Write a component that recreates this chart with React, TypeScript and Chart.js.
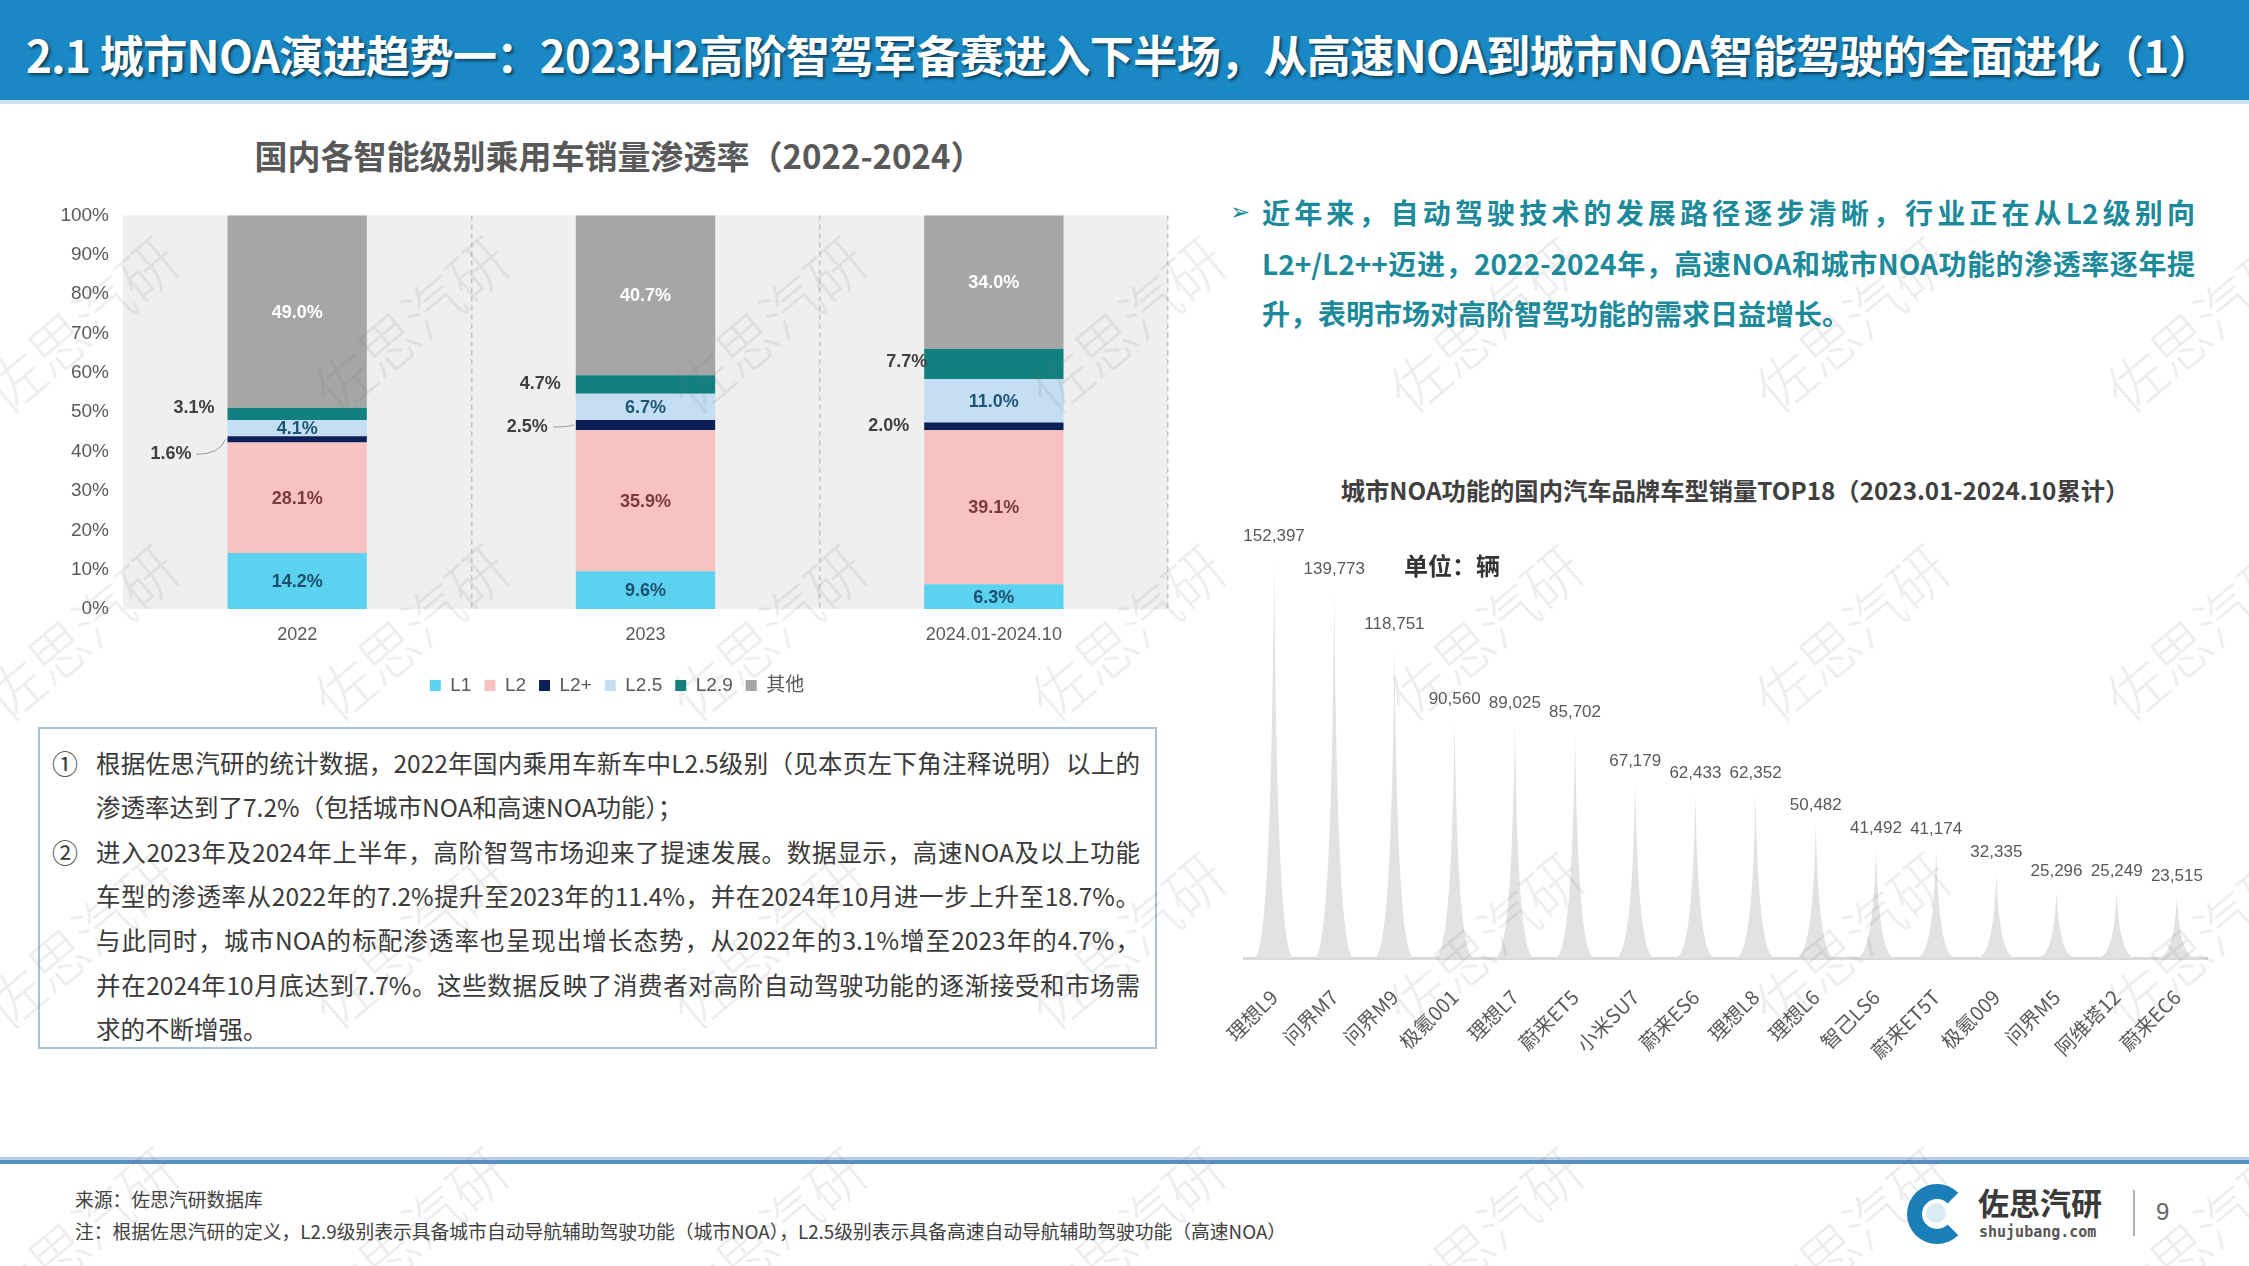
import React, { useEffect, useRef } from 'react';
import { Chart, registerables } from 'chart.js';

Chart.register(...registerables);

// ---------------- data ----------------
const years = ['2022', '2023', '2024.01-2024.10'];
const levelNames = ['L1', 'L2', 'L2+', 'L2.5', 'L2.9', '其他'];
const l1Share = [14.2, 9.6, 6.3];
const l2Share = [28.1, 35.9, 39.1];
const l2PlusShare = [1.6, 2.5, 2.0];
const l25Share = [4.1, 6.7, 11.0];
const l29Share = [3.1, 4.7, 7.7];
const otherShare = [49.0, 40.7, 34.0];
const pctTickStep = 10;

const models = ['理想L9', '问界M7', '问界M9', '极氪001', '理想L7', '蔚来ET5', '小米SU7', '蔚来ES6', '理想L8', '理想L6', '智己LS6', '蔚来ET5T', '极氪009', '问界M5', '阿维塔12', '蔚来EC6'];
const modelSales = [152397, 139773, 118751, 90560, 89025, 85702, 67179, 62433, 62352, 50482, 41492, 41174, 32335, 25296, 25249, 23515];

// ---------------- styles ----------------
const CJK = '"Noto Sans CJK SC", "Noto Sans", sans-serif';
const LAT = '"Liberation Sans", Arial, "Noto Sans CJK SC", sans-serif';
const levelColors = ['#5bd2ef', '#f8c2c2', '#0c1f56', '#c4dff4', '#12807f', '#a6a6a6'];
const insideLabelColors: (string | null)[] = ['#1f4f6f', '#7a3a3a', null, '#1e5676', null, '#ffffff'];
// nudges for labels drawn left of the bars: [dx, dy] per year
const outsideNudge: Record<string, number[][]> = {
  'L2+': [[-36, 15], [-28, 2], [-15, 0]],
  'L2.9': [[-13, -6], [-15, 0], [3, -2]],
};
const legendShift = 33;

Chart.defaults.font.family = LAT;

const plotBgPlugin = {
  id: 'plotBg',
  afterLayout(chart: any) {
    if (chart.legend) {
      chart.legend.left += legendShift;
      chart.legend.right += legendShift;
    }
  },
  beforeDraw(chart: any) {
    const { ctx, chartArea } = chart;
    ctx.save();
    ctx.fillStyle = '#efefef';
    ctx.fillRect(chartArea.left, chartArea.top, chartArea.right - chartArea.left, chartArea.bottom - chartArea.top);
    ctx.restore();
  },
};

const stackLabelPlugin = {
  id: 'stackLabels',
  afterDatasetsDraw(chart: any) {
    const ctx = chart.ctx;
    ctx.save();
    ctx.font = `bold 18px ${LAT}`;
    ctx.textBaseline = 'middle';
    chart.data.datasets.forEach((ds: any, di: number) => {
      const meta = chart.getDatasetMeta(di);
      meta.data.forEach((bar: any, i: number) => {
        const p = bar.getProps(['x', 'y', 'base', 'width'], true);
        const mid = (Math.max(p.y, chart.chartArea.top) + p.base) / 2;
        const text = Number(ds.data[i]).toFixed(1) + '%';
        const inside = insideLabelColors[di];
        if (inside) {
          ctx.fillStyle = inside;
          ctx.textAlign = 'center';
          ctx.fillText(text, p.x, mid + 1);
        } else {
          const nudge = outsideNudge[ds.label][i];
          const left = p.x - p.width / 2;
          const tx = left + nudge[0];
          const ty = mid + nudge[1];
          ctx.fillStyle = '#404040';
          ctx.textAlign = 'right';
          ctx.fillText(text, tx, ty);
          if (ds.label === 'L2+' && nudge[0] < -20) {
            ctx.strokeStyle = '#9a9a9a';
            ctx.lineWidth = 1;
            ctx.beginPath();
            ctx.moveTo(tx + 5, ty);
            ctx.quadraticCurveTo(left - 8, ty, left - 2, mid);
            ctx.stroke();
          }
        }
      });
    });
    ctx.restore();
  },
};

const spikePlugin = {
  id: 'spikes',
  beforeDatasetDraw() {
    return false;
  },
  afterDatasetsDraw(chart: any) {
    const ctx = chart.ctx;
    const ds = chart.data.datasets[0];
    const meta = chart.getDatasetMeta(0);
    ctx.save();
    meta.data.forEach((el: any, i: number) => {
      const { x, y, base, width } = el.getProps(['x', 'y', 'base', 'width'], true);
      const hw = width / 2;
      const h = base - y;
      ctx.beginPath();
      ctx.moveTo(x - hw, base);
      ctx.bezierCurveTo(x - hw * 0.32, base, x - hw * 0.08, base - h * 0.45, x, y);
      ctx.bezierCurveTo(x + hw * 0.08, base - h * 0.45, x + hw * 0.32, base, x + hw, base);
      ctx.closePath();
      ctx.fillStyle = ds.backgroundColor;
      ctx.fill();
      ctx.fillStyle = '#595959';
      ctx.font = `17px "Liberation Sans Narrow", ${LAT}`;
      ctx.textAlign = 'center';
      ctx.textBaseline = 'middle';
      ctx.fillText(Number(ds.data[i]).toLocaleString('en-US'), x, y - 20);
    });
    ctx.restore();
  },
};

function ShareChart() {
  const ref = useRef<HTMLCanvasElement>(null);
  useEffect(() => {
    const series = [l1Share, l2Share, l2PlusShare, l25Share, l29Share, otherShare];
    const chart = new Chart(ref.current as HTMLCanvasElement, {
      type: 'bar',
      data: {
        labels: years,
        datasets: levelNames.map((name, k) => ({
          label: name,
          data: series[k],
          backgroundColor: levelColors[k],
          borderWidth: 0,
          barPercentage: 0.4,
          categoryPercentage: 1,
        })),
      },
      options: {
        responsive: false,
        animation: false,
        layout: { padding: { top: 19, right: 32, left: 0, bottom: 15 } },
        scales: {
          x: {
            stacked: true,
            grid: {
              display: true,
              drawTicks: false,
              offset: true,
              lineWidth: 1.5,
              color: (c: any) => (c.index === 0 ? 'rgba(0,0,0,0)' : '#c4c4c4'),
            },
            border: { display: false, dash: [5, 4] },
            ticks: { color: '#595959', font: { size: 18 }, padding: 15 },
            afterFit: (s: any) => { s.height = 54; },
          },
          y: {
            stacked: true,
            min: 0,
            max: 100,
            grid: { display: false, drawTicks: false },
            border: { display: false },
            ticks: {
              stepSize: pctTickStep,
              color: '#595959',
              font: { size: 19 },
              padding: 14,
              callback: (v: any) => v + '%',
            },
            afterFit: (s: any) => { s.width = 123; },
          },
        },
        plugins: {
          legend: {
            position: 'bottom',
            labels: {
              boxWidth: 11,
              boxHeight: 11,
              color: '#595959',
              font: { size: 19 },
              padding: 13,
            },
          },
          tooltip: { enabled: false },
        },
      } as any,
      plugins: [plotBgPlugin, stackLabelPlugin],
    });
    return () => chart.destroy();
  }, []);
  return <canvas ref={ref} width={1200} height={530} style={{ position: 'absolute', left: 0, top: 190 }} />;
}

function ModelChart() {
  const ref = useRef<HTMLCanvasElement>(null);
  useEffect(() => {
    const chart = new Chart(ref.current as HTMLCanvasElement, {
      type: 'bar',
      data: {
        labels: models,
        datasets: [{ data: modelSales, backgroundColor: '#e2e2e2', barPercentage: 0.66, categoryPercentage: 1 }],
      },
      options: {
        responsive: false,
        animation: false,
        layout: { padding: { left: 44, right: 42, top: 36, bottom: 0 } },
        scales: {
          x: {
            grid: { display: false, drawTicks: false },
            border: { display: true, color: '#dadada', width: 3 },
            ticks: {
              color: '#595959',
              font: { size: 20, family: CJK },
              minRotation: 45,
              maxRotation: 45,
              autoSkip: false,
              padding: 27,
            },
            afterFit: (s: any) => { s.height = 164; },
          },
          y: { display: false, min: 0, max: 160000 },
        },
        plugins: { legend: { display: false }, tooltip: { enabled: false } },
      } as any,
      plugins: [spikePlugin],
    });
    return () => chart.destroy();
  }, []);
  return <canvas ref={ref} width={1049} height={622} style={{ position: 'absolute', left: 1200, top: 500 }} />;
}

const boxLines = [
  '根据佐思汽研的统计数据，2022年国内乘用车新车中L2.5级别（见本页左下角注释说明）以上的',
  '渗透率达到了7.2%（包括城市NOA和高速NOA功能）；',
  '进入2023年及2024年上半年，高阶智驾市场迎来了提速发展。数据显示，高速NOA及以上功能',
  '车型的渗透率从2022年的7.2%提升至2023年的11.4%，并在2024年10月进一步上升至18.7%。',
  '与此同时，城市NOA的标配渗透率也呈现出增长态势，从2022年的3.1%增至2023年的4.7%，',
  '并在2024年10月底达到7.7%。这些数据反映了消费者对高阶自动驾驶功能的逐渐接受和市场需',
  '求的不断增强。',
];
const boxJustify = [true, false, true, true, true, true, false];

const rightLines = [
  '近年来，自动驾驶技术的发展路径逐步清晰，行业正在从L2级别向',
  'L2+/L2++迈进，2022-2024年，高速NOA和城市NOA功能的渗透率逐年提',
  '升，表明市场对高阶智驾功能的需求日益增长。',
];

const wmXs = [79, 409, 767, 1126, 1484, 1850, 2201];
const wmYs = [323, 631, 939, 1233];

export default function App() {
  return (
    <div style={{ position: 'absolute', left: 0, top: 0, width: 2249, height: 1266, background: '#ffffff', overflow: 'hidden', fontFamily: CJK }}>
      {/* title bar */}
      <div style={{ position: 'absolute', left: 0, top: 0, width: 2249, height: 100, background: '#1a88c4' }} />
      <div style={{ position: 'absolute', left: 0, top: 100, width: 2249, height: 4, background: '#cfe4f0' }} />
      <div style={{ position: 'absolute', left: 26, top: 23, height: 62, lineHeight: '62px', fontSize: 44, fontWeight: 700, color: '#ffffff', whiteSpace: 'nowrap', textShadow: '2px 2px 3px rgba(0,0,0,0.55)', letterSpacing: -0.6 }}>
        2.1 城市NOA演进趋势一：2023H2高阶智驾军备赛进入下半场，从高速NOA到城市NOA智能驾驶的全面进化（1）
      </div>

      {/* left chart title */}
      <div style={{ position: 'absolute', left: 219, top: 134, width: 800, textAlign: 'center', fontSize: 33, fontWeight: 700, color: '#595959', lineHeight: '42px', whiteSpace: 'nowrap' }}>
        国内各智能级别乘用车销量渗透率（2022-2024）
      </div>
      <ShareChart />

      {/* text box */}
      <div style={{ position: 'absolute', left: 38, top: 727, width: 1119, height: 322, border: '2px solid #a8c3d3', boxSizing: 'border-box' }} />
      {boxLines.map((t, i) => (
        <div key={i} style={{ position: 'absolute', left: 96, top: 741 + i * 44.3, width: 1044, height: 44, lineHeight: '44px', fontSize: 24.5, color: '#3a3a3a', whiteSpace: 'nowrap', textAlign: boxJustify[i] ? 'justify' : 'left', textAlignLast: boxJustify[i] ? 'justify' : 'left' } as any}>
          {t}
        </div>
      ))}
      <div style={{ position: 'absolute', left: 52, top: 741, fontSize: 26, lineHeight: '44px', color: '#3a3a3a' }}>①</div>
      <div style={{ position: 'absolute', left: 52, top: 741 + 2 * 44.3, fontSize: 26, lineHeight: '44px', color: '#3a3a3a' }}>②</div>

      {/* right text */}
      <div style={{ position: 'absolute', left: 1230, top: 192, fontSize: 24, lineHeight: '40px', color: '#1c8a9a', fontFamily: '"DejaVu Sans", sans-serif' }}>➢</div>
      {rightLines.map((t, i) => (
        <div key={i} style={{ position: 'absolute', left: 1262, top: 187 + i * 50.5, width: 933, height: 50, lineHeight: '50px', fontSize: 28, fontWeight: 700, color: '#1c8a9a', whiteSpace: 'nowrap', textAlign: i < 2 ? 'justify' : 'left', textAlignLast: i < 2 ? 'justify' : 'left' } as any}>
          {t}
        </div>
      ))}

      {/* right chart title */}
      <div style={{ position: 'absolute', left: 1285, top: 473, width: 900, textAlign: 'center', fontSize: 24.3, fontWeight: 700, color: '#404040', lineHeight: '34px', whiteSpace: 'nowrap' }}>
        城市NOA功能的国内汽车品牌车型销量TOP18（2023.01-2024.10累计）
      </div>
      <ModelChart />
      <div style={{ position: 'absolute', left: 1404, top: 548, fontSize: 24, fontWeight: 700, color: '#333333', lineHeight: '34px', whiteSpace: 'nowrap' }}>单位：辆</div>

      {/* footer */}
      <div style={{ position: 'absolute', left: 0, top: 1157, width: 2249, height: 3, background: '#b7cfe6' }} />
      <div style={{ position: 'absolute', left: 0, top: 1160, width: 2249, height: 4, background: '#5a8fc4' }} />
      <div style={{ position: 'absolute', left: 75, top: 1187, fontSize: 18.8, lineHeight: '24px', color: '#404040', whiteSpace: 'nowrap' }}>来源：佐思汽研数据库</div>
      <div style={{ position: 'absolute', left: 75, top: 1219, fontSize: 18.8, lineHeight: '24px', color: '#404040', whiteSpace: 'nowrap' }}>
        注：根据佐思汽研的定义，L2.9级别表示具备城市自动导航辅助驾驶功能（城市NOA），L2.5级别表示具备高速自动导航辅助驾驶功能（高速NOA）
      </div>

      {/* logo */}
      <div style={{ position: 'absolute', left: 1907, top: 1184, width: 60, height: 60, boxSizing: 'border-box', borderRadius: '50%', border: '15px solid #1a7fb8', borderRightColor: 'transparent' }} />
      <div style={{ position: 'absolute', left: 1926, top: 1203, width: 20, height: 20, borderRadius: '50%', background: '#d9ecf5' }} />
      <div style={{ position: 'absolute', left: 1978, top: 1182, fontSize: 31, fontWeight: 700, color: '#3a3a3a', lineHeight: '40px', whiteSpace: 'nowrap' }}>佐思汽研</div>
      <div style={{ position: 'absolute', left: 1979, top: 1222, fontSize: 15, fontWeight: 700, color: '#555555', lineHeight: '20px', fontFamily: '"DejaVu Sans Mono", monospace', whiteSpace: 'nowrap' }}>shujubang.com</div>
      <div style={{ position: 'absolute', left: 2133, top: 1190, width: 2, height: 46, background: '#b0b0b0' }} />
      <div style={{ position: 'absolute', left: 2156, top: 1196, fontSize: 24, color: '#666666', lineHeight: '32px', fontFamily: LAT }}>9</div>

      {/* watermarks */}
      {wmYs.map((y) => wmXs.map((x) => (
        <div key={`${x}-${y}`} style={{ position: 'absolute', left: x - 120, top: y - 35, width: 240, height: 70, lineHeight: '70px', textAlign: 'center', fontSize: 58, fontWeight: 300, color: 'rgba(110,110,110,0.12)', transform: 'rotate(-40deg)', pointerEvents: 'none', whiteSpace: 'nowrap' }}>
          佐思汽研
        </div>
      )))}
    </div>
  );
}
